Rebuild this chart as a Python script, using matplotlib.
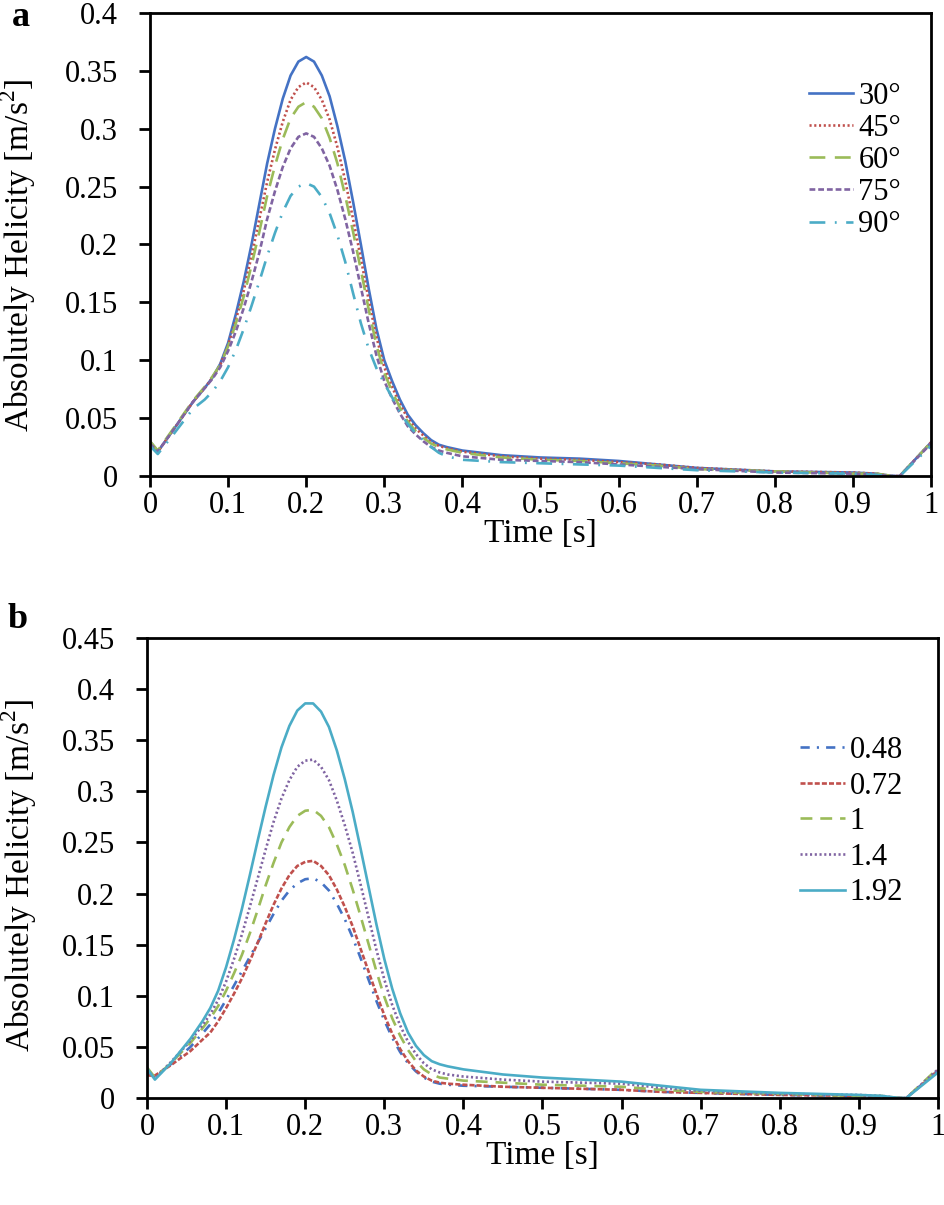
import matplotlib
matplotlib.use("Agg")
import matplotlib.pyplot as plt

plt.rcParams['font.family'] = ['Liberation Serif', 'DejaVu Serif']
plt.rcParams['mathtext.fontset'] = 'custom'
plt.rcParams['mathtext.rm'] = 'Liberation Serif'

# ---------------- data ----------------
time = [0.0, 0.01, 0.03, 0.055, 0.07, 0.08, 0.09, 0.10, 0.11, 0.12, 0.13, 0.14, 0.15, 0.16,
        0.17, 0.18, 0.19, 0.20, 0.21, 0.22, 0.23, 0.24, 0.25, 0.26, 0.27, 0.28, 0.29, 0.30,
        0.31, 0.32, 0.33, 0.34, 0.35, 0.36, 0.37, 0.38, 0.40, 0.45, 0.50, 0.55, 0.60, 0.65,
        0.70, 0.80, 0.90, 0.93, 0.95, 0.96, 1.0]

labels_a = ["30°", "45°", "60°", "75°", "90°"]
a_30 = [0.030, 0.021, 0.040, 0.064, 0.076, 0.085, 0.097, 0.115, 0.140, 0.168, 0.200, 0.235, 0.270, 0.300,
        0.326, 0.346, 0.358, 0.362, 0.358, 0.346, 0.328, 0.302, 0.272, 0.237, 0.200, 0.162, 0.127, 0.100,
        0.082, 0.066, 0.053, 0.044, 0.037, 0.031, 0.027, 0.025, 0.022, 0.018, 0.016, 0.015, 0.013, 0.010,
        0.007, 0.004, 0.003, 0.002, 0.000, 0.000, 0.029]
a_45 = [0.028, 0.021, 0.040, 0.064, 0.076, 0.085, 0.096, 0.113, 0.135, 0.160, 0.190, 0.222, 0.254, 0.282,
        0.306, 0.325, 0.336, 0.340, 0.336, 0.325, 0.308, 0.284, 0.255, 0.222, 0.188, 0.152, 0.120, 0.094,
        0.077, 0.062, 0.050, 0.041, 0.035, 0.029, 0.026, 0.024, 0.021, 0.017, 0.015, 0.014, 0.012, 0.010,
        0.007, 0.004, 0.003, 0.002, 0.000, 0.000, 0.029]
a_60 = [0.030, 0.022, 0.041, 0.065, 0.077, 0.086, 0.096, 0.112, 0.132, 0.155, 0.182, 0.211, 0.242, 0.268,
        0.291, 0.309, 0.319, 0.323, 0.319, 0.309, 0.292, 0.270, 0.242, 0.211, 0.178, 0.144, 0.113, 0.089,
        0.073, 0.059, 0.047, 0.039, 0.033, 0.028, 0.025, 0.023, 0.020, 0.016, 0.014, 0.013, 0.011, 0.009,
        0.006, 0.004, 0.002, 0.002, 0.000, 0.000, 0.029]
a_75 = [0.028, 0.021, 0.040, 0.064, 0.076, 0.084, 0.094, 0.108, 0.125, 0.145, 0.168, 0.193, 0.222, 0.246,
        0.267, 0.283, 0.293, 0.296, 0.293, 0.283, 0.268, 0.247, 0.222, 0.194, 0.163, 0.132, 0.104, 0.082,
        0.067, 0.054, 0.043, 0.036, 0.030, 0.025, 0.022, 0.020, 0.017, 0.014, 0.013, 0.012, 0.010, 0.008,
        0.006, 0.003, 0.002, 0.001, 0.000, 0.000, 0.028]
a_90 = [0.026, 0.019, 0.036, 0.058, 0.066, 0.073, 0.082, 0.094, 0.109, 0.127, 0.147, 0.168, 0.190, 0.210,
        0.228, 0.242, 0.250, 0.253, 0.250, 0.241, 0.227, 0.208, 0.185, 0.158, 0.132, 0.110, 0.093, 0.080,
        0.068, 0.055, 0.045, 0.037, 0.031, 0.025, 0.020, 0.017, 0.014, 0.012, 0.011, 0.010, 0.009, 0.007,
        0.005, 0.003, 0.002, 0.001, 0.000, 0.000, 0.026]

labels_b = ["0.48", "0.72", "1", "1.4", "1.92"]
b_048 = [0.025, 0.020, 0.033, 0.050, 0.063, 0.072, 0.083, 0.096, 0.110, 0.124, 0.138, 0.152, 0.166, 0.180,
         0.193, 0.203, 0.210, 0.214, 0.215, 0.211, 0.203, 0.190, 0.175, 0.157, 0.137, 0.116, 0.095, 0.076,
         0.059, 0.045, 0.034, 0.026, 0.020, 0.016, 0.014, 0.013, 0.012, 0.011, 0.010, 0.009, 0.008, 0.006,
         0.005, 0.003, 0.002, 0.001, 0.000, 0.000, 0.027]
b_072 = [0.022, 0.022, 0.032, 0.046, 0.057, 0.064, 0.075, 0.088, 0.102, 0.117, 0.134, 0.152, 0.171, 0.189,
         0.205, 0.218, 0.227, 0.231, 0.232, 0.227, 0.218, 0.204, 0.187, 0.168, 0.146, 0.124, 0.102, 0.081,
         0.063, 0.048, 0.036, 0.027, 0.021, 0.017, 0.015, 0.014, 0.013, 0.011, 0.010, 0.009, 0.008, 0.006,
         0.005, 0.003, 0.002, 0.001, 0.000, 0.000, 0.027]
b_1 = [0.030, 0.020, 0.034, 0.054, 0.068, 0.078, 0.090, 0.105, 0.122, 0.140, 0.161, 0.184, 0.208, 0.230,
       0.250, 0.265, 0.276, 0.281, 0.282, 0.276, 0.265, 0.248, 0.228, 0.204, 0.178, 0.151, 0.124, 0.099,
       0.078, 0.061, 0.047, 0.036, 0.028, 0.023, 0.020, 0.019, 0.017, 0.015, 0.013, 0.012, 0.011, 0.008,
       0.006, 0.004, 0.002, 0.002, 0.000, 0.000, 0.029]
b_14 = [0.028, 0.019, 0.035, 0.056, 0.071, 0.082, 0.096, 0.114, 0.136, 0.160, 0.187, 0.215, 0.243, 0.270,
        0.293, 0.311, 0.324, 0.330, 0.331, 0.324, 0.311, 0.291, 0.267, 0.240, 0.209, 0.177, 0.145, 0.116,
        0.091, 0.071, 0.055, 0.043, 0.034, 0.028, 0.025, 0.023, 0.021, 0.018, 0.016, 0.015, 0.014, 0.010,
        0.007, 0.004, 0.003, 0.002, 0.000, 0.000, 0.028]
b_192 = [0.029, 0.018, 0.034, 0.058, 0.075, 0.088, 0.105, 0.128, 0.155, 0.185, 0.218, 0.252, 0.285, 0.316,
         0.343, 0.364, 0.379, 0.386, 0.386, 0.378, 0.363, 0.340, 0.312, 0.280, 0.244, 0.207, 0.170, 0.136,
         0.107, 0.083, 0.064, 0.051, 0.042, 0.036, 0.033, 0.031, 0.028, 0.023, 0.020, 0.018, 0.016, 0.012,
         0.008, 0.005, 0.003, 0.002, 0.000, 0.000, 0.025]

c_blue, c_red, c_green, c_purple, c_cyan = "#4472C4", "#C0504D", "#9BBB59", "#8064A2", "#4BACC6"

fig = plt.figure(figsize=(9.45, 12.05), dpi=100)
ax1 = fig.add_axes([150/945, 1-476/1205, (931-150)/945, (476-13)/1205])
ax2 = fig.add_axes([147/945, 1-1098/1205, (938-147)/945, (1098-638)/1205])

lw = 1.9
ax1.plot(time, a_30, color=c_blue, lw=lw, ls='-', label=labels_a[0])
ax1.plot(time, a_45, color=c_red, lw=lw, ls=(0, (0.8, 1.0)), label=labels_a[1])
ax1.plot(time, a_60, color=c_green, lw=lw, ls=(0, (6, 3.6)), label=labels_a[2])
ax1.plot(time, a_75, color=c_purple, lw=lw, ls=(0, (2.2, 1.1)), label=labels_a[3])
ax1.plot(time, a_90, color=c_cyan, lw=lw, ls=(0, (6, 3.6, 0.7, 3.6)), label=labels_a[4])

ax2.plot(time, b_048, color=c_blue, lw=lw, ls=(0, (3.5, 2.7, 0.8, 2.7)), label=labels_b[0])
ax2.plot(time, b_072, color=c_red, lw=lw, ls=(0, (1.9, 0.8)), label=labels_b[1])
ax2.plot(time, b_1, color=c_green, lw=lw, ls=(0, (4.5, 3)), label=labels_b[2])
ax2.plot(time, b_14, color=c_purple, lw=lw, ls=(0, (0.8, 1.0)), label=labels_b[3])
ax2.plot(time, b_192, color=c_cyan, lw=lw, ls='-', label=labels_b[4])

fs = 22
for ax, ymax, yticks, ytl, lx, ly in [
        (ax1, 0.4, [0, 0.05, 0.1, 0.15, 0.2, 0.25, 0.3, 0.35, 0.4],
         ["0", "0.05", "0.1", "0.15", "0.2", "0.25", "0.3", "0.35", "0.4"], -0.143, 0.477),
        (ax2, 0.45, [0, 0.05, 0.1, 0.15, 0.2, 0.25, 0.3, 0.35, 0.4, 0.45],
         ["0", "0.05", "0.1", "0.15", "0.2", "0.25", "0.3", "0.35", "0.4", "0.45"], -0.137, 0.485)]:
    ax.set_xlim(0, 1)
    ax.set_ylim(0, ymax)
    ax.set_xticks([0, 0.1, 0.2, 0.3, 0.4, 0.5, 0.6, 0.7, 0.8, 0.9, 1.0])
    ax.set_xticklabels(["0", "0.1", "0.2", "0.3", "0.4", "0.5", "0.6", "0.7", "0.8", "0.9", "1"])
    ax.set_yticks(yticks)
    ax.set_yticklabels(ytl)
    ax.tick_params(direction='out', length=8, width=2, labelsize=fs,
                   top=False, right=False)
    ax.tick_params(axis='x', pad=3)
    ax.tick_params(axis='y', pad=15)
    for s in ax.spines.values():
        s.set_linewidth(2)
    ax.set_xlabel("Time [s]", fontsize=24)
    ax.set_ylabel("Absolutely Helicity [m/s$^2$]", fontsize=24)
    ax.yaxis.set_label_coords(lx, ly)
    ax.xaxis.set_label_coords(0.5, -0.092)

ax1.legend(loc='upper left', bbox_to_anchor=(0.844, 0.851), frameon=False, fontsize=fs,
           handlelength=1.45, handletextpad=0.16, labelspacing=0.10, borderaxespad=0, borderpad=0)
ax2.legend(loc='upper left', bbox_to_anchor=(0.8255, 0.787), frameon=False, fontsize=fs,
           handlelength=1.47, handletextpad=0.16, labelspacing=0.215, borderaxespad=0, borderpad=0)

fig.text(12/945, 1-25.5/1205, "a", fontsize=26, fontweight='bold', va='baseline')
fig.text(8/945, 1-628/1205, "b", fontsize=26, fontweight='bold', va='baseline')

fig.savefig("out.png", dpi=100)
